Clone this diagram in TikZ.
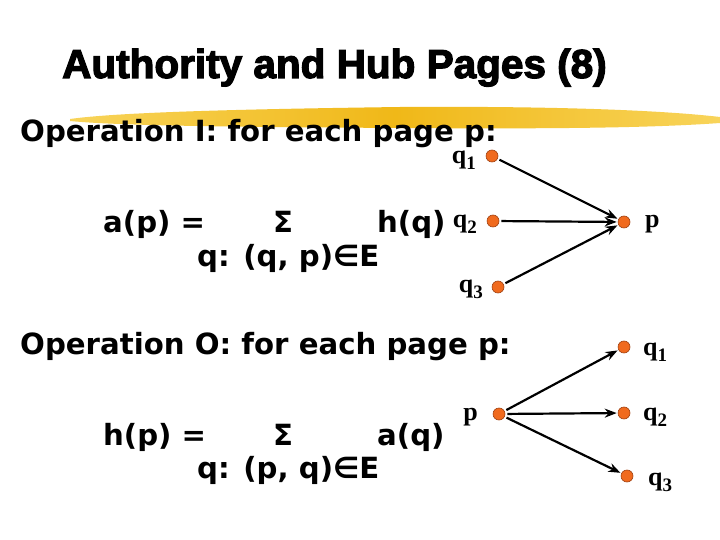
\documentclass[tikz,border=0pt]{standalone}
\usepackage{fontspec}
\setmainfont{Liberation Serif}
\newfontfamily\titlefont[FakeBold=3]{Liberation Sans Bold}
\newfontfamily\bodyfont{DejaVu Sans Bold}
\newfontfamily\lblfont{Liberation Serif Bold}
\usetikzlibrary{arrows.meta}
\definecolor{dotorange}{HTML}{F06A1E}
\definecolor{dotedge}{HTML}{A04010}
\definecolor{brushA}{HTML}{F0B818}
\definecolor{brushB}{HTML}{F8D45A}
\newcommand{\lsub}[1]{\raisebox{-6pt}{\fontsize{19}{19}\selectfont #1}}
\begin{document}
\begin{tikzpicture}[x=1pt,y=-1pt,
  dot/.style={circle,fill=dotorange,draw=dotedge,line width=0.6pt,minimum size=12pt,inner sep=0pt},
  lbl/.style={font=\lblfont\fontsize{26}{28}\selectfont,inner sep=0pt},
  body/.style={font=\bodyfont\fontsize{29.2}{31}\selectfont,inner sep=0pt,anchor=base west},
  edge/.style={line width=2.2pt,-{Stealth[length=12pt,width=9pt]},shorten >=1pt,shorten <=2pt}]
\useasboundingbox (0,0) rectangle (720,540);
\fill[white] (0,0) rectangle (720,540);
% brush stroke
\shade[left color=brushB,right color=brushB,middle color=brushA]
  (70,119) .. controls (120,112) and (250,109) .. (400,107)
  .. controls (550,106) and (660,110) .. (720,117)
  -- (720,123) .. controls (650,128) and (550,129) .. (400,128)
  .. controls (250,127) and (120,126) .. (70,121) -- cycle;
% title
\node[font=\titlefont\fontsize{40.5}{44}\selectfont,inner sep=0pt,anchor=base west] (title) at (62,78) {Authority and Hub Pages (8)};
% operation I
\node[body] (opI) at (20,142) {Operation I: for each page p:};
\node[body] (ap) at (103,233) {a(p) =};
\node[body] (sig1) at (273,233) {Σ};
\node[body] (hq) at (377,233) {h(q)};
\node[body] (cond1) at (197,266) {q: (q, p)∈E};
% graph I
\node[dot] (q1) at (492,156) {};
\node[dot] (q2) at (493,221) {};
\node[dot] (q3) at (498,287) {};
\node[dot] (p) at (624,222) {};
\node[lbl,anchor=base east] (q1l) at (476,164) {q\lsub{1}};
\node[lbl,anchor=base east] (q2l) at (477,227) {q\lsub{2}};
\node[lbl,anchor=base east] (q3l) at (483,292) {q\lsub{3}};
\node[lbl,anchor=base west] (pl) at (645,228) {p};
\draw[edge] (q1) -- (p);
\draw[edge] (q2) -- (p);
\draw[edge] (q3) -- (p);
% operation O
\node[body] (opO) at (20,354) {Operation O: for each page p:};
\node[body] (hp) at (103,445) {h(p) =};
\node[body] (sig2) at (273,445) {Σ};
\node[body] (aq) at (377,445) {a(q)};
\node[body] (cond2) at (197,478) {q: (p, q)∈E};
% graph O
\node[dot] (pp) at (499,414) {};
\node[dot] (r1) at (624,347) {};
\node[dot] (r2) at (624,413) {};
\node[dot] (r3) at (627,476) {};
\node[lbl,anchor=base east] (ppl) at (478,420) {p};
\node[lbl,anchor=base west] (r1l) at (643,355) {q\lsub{1}};
\node[lbl,anchor=base west] (r2l) at (643,420) {q\lsub{2}};
\node[lbl,anchor=base west] (r3l) at (648,485) {q\lsub{3}};
\draw[edge] (pp) -- (r1);
\draw[edge] (pp) -- (r2);
\draw[edge] (pp) -- (r3);
\end{tikzpicture}
\end{document}
